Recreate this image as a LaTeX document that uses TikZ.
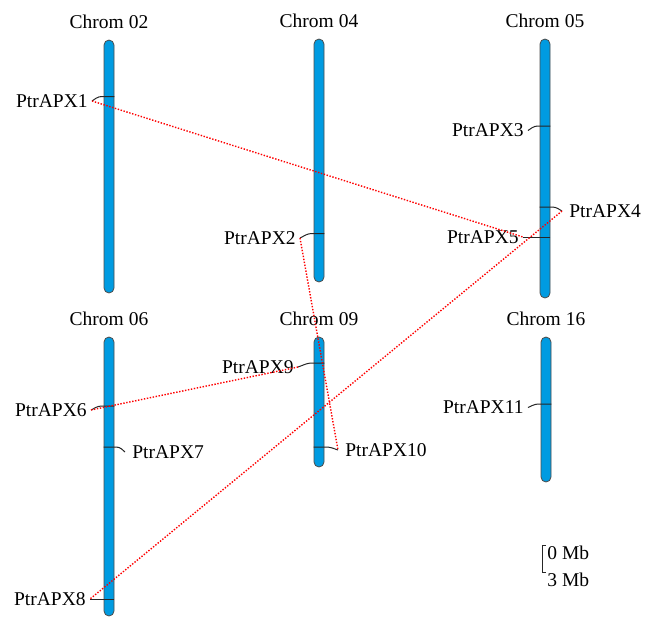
\documentclass[tikz,border=0pt]{standalone}
\usepackage{fontspec}
\setmainfont{Liberation Serif}
\usetikzlibrary{positioning}
\definecolor{chromblue}{RGB}{0,155,225}

\begin{document}
\begin{tikzpicture}[x = 0.5pt, y = -0.5pt,
    every node/.style = {font = \fontsize{9.75}{11}\selectfont},
    chrom/.style = {draw = black!70, fill = chromblue, line width = 0.4pt,
        minimum width = 5pt, inner sep = 0pt, rounded corners = 2.5pt},
    title/.style = {inner sep = 0pt},
    tick/.style = {line width = 0.5pt, black!85, rounded corners = 1.5pt},
    link/.style = {red, line width = 0.7pt, dash pattern = on 0.7pt off 0.8pt}]
    \useasboundingbox (0,0) rectangle (660,629);

    % chromosomes
    \node[chrom, minimum height = 126.5pt] (c02) at (109,166.5) {};
    \node[chrom, minimum height = 121.5pt] (c04) at (319,160.5) {};
    \node[chrom, minimum height = 129.5pt] (c05) at (545,168.5) {};
    \node[chrom, minimum height = 139.5pt] (c06) at (109,476.5) {};
    \node[chrom, minimum height = 65pt]    (c09) at (319,402) {};
    \node[chrom, minimum height = 72.5pt]  (c16) at (546,409.5) {};

    \foreach \c in {02, 04, 05, 06, 09, 16}
        \node[title, above = 5.5pt of c\c] (n\c) {Chrom \c};

    % genes on the left side
    \foreach \n/\c/\y/\ex/\ey in {1/02/96.5/92/101, 2/04/233.5/300/238,
        3/05/126/528/130.5, 5/05/237/523/237, 6/06/406/91/410,
        8/06/599/90/599, 9/09/363/298/367, 11/16/404/528/407.5}
    {
        \coordinate (k\n) at (0,\y);
        \coordinate (e\n) at (\ex,\ey);
        \draw[tick] (c\c.east |- k\n) -- (c\c.west |- k\n) -- ++(-5,0) -- (e\n);
        \node[anchor = east, inner sep = 2pt] (g\n) at (e\n) {PtrAPX\n};
    }

    % genes on the right side
    \foreach \n/\c/\y/\ex/\ey in {4/05/207/562/211, 7/06/447/125/452,
        10/09/447/338/450}
    {
        \coordinate (k\n) at (0,\y);
        \coordinate (e\n) at (\ex,\ey);
        \draw[tick] (c\c.west |- k\n) -- (c\c.east |- k\n) -- ++(5,0) -- (e\n);
        \node[anchor = west, inner sep = 3.5pt] (g\n) at (e\n) {PtrAPX\n};
    }

    % duplicated pairs
    \draw[link] (e1) -- (e5);
    \draw[link] (e4) -- (e8);
    \draw[link] (e2) -- (e10);
    \draw[link] (e6) -- (e9);

    % scale
    \coordinate (s0) at (546,545);
    \coordinate (s3) at (546,572);
    \draw[tick, rounded corners = 0pt] (s0) -- ++(-4,0) |- (s3);
    \node[anchor = north west, inner sep = 0pt] (m0) at (547,546) {0 Mb};
    \node[anchor = north west, inner sep = 0pt] (m3) at (547,573) {3 Mb};
\end{tikzpicture}
\end{document}
